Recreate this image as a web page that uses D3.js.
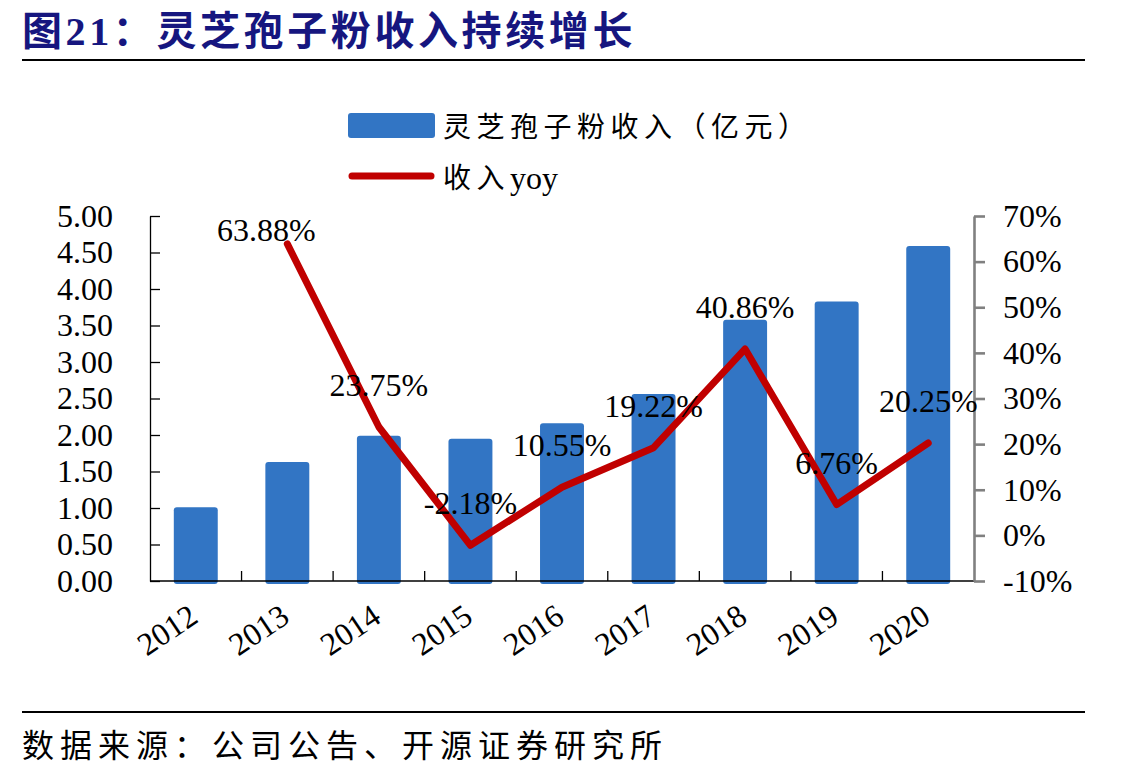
<!DOCTYPE html>
<html>
<head>
<meta charset="utf-8">
<script src="https://cdn.jsdelivr.net/npm/d3@7"></script>
<style>
  body { margin: 0; background: #fff; }
  text { font-family: "Liberation Serif", "Noto Sans CJK SC", serif; }
</style>
</head>
<body>
<div id="chart"></div>
<script>
// Data
const years = ["2012", "2013", "2014", "2015", "2016", "2017", "2018", "2019", "2020"];
const revenue = [1.01, 1.63, 1.99, 1.95, 2.16, 2.56, 3.58, 3.83, 4.59];
const yoy = [null, 63.88, 23.75, -2.18, 10.55, 19.22, 40.86, 6.76, 20.25];
const leftTicks = [0, 0.5, 1, 1.5, 2, 2.5, 3, 3.5, 4, 4.5, 5];
const rightTicks = [-10, 0, 10, 20, 30, 40, 50, 60, 70];
const seriesNames = ["灵芝孢子粉收入（亿元）", "收入"];
const titleText = "图21：灵芝孢子粉收入持续增长";
const sourceText = "数据来源：公司公告、开源证券研究所";

const width = 1137, height = 779;
const plot = { left: 150, right: 974, top: 216, bottom: 581 };
const barColor = "#3275C4";
const lineColor = "#C00000";
const numFont = 32;

const svg = d3.select("#chart").append("svg")
  .attr("width", width)
  .attr("height", height);

// Title + rules
svg.append("text")
  .attr("x", 22).attr("y", 45)
  .attr("fill", "#16167f")
  .attr("font-size", 40)
  .attr("font-weight", "bold")
  .attr("letter-spacing", 3.6)
  .text(titleText);

svg.append("line").attr("x1", 22).attr("x2", 1085).attr("y1", 60).attr("y2", 60)
  .attr("stroke", "#000").attr("stroke-width", 2);
svg.append("line").attr("x1", 22).attr("x2", 1085).attr("y1", 712).attr("y2", 712)
  .attr("stroke", "#000").attr("stroke-width", 2);

svg.append("text")
  .attr("x", 22).attr("y", 757)
  .attr("font-size", 32)
  .attr("letter-spacing", 6)
  .text(sourceText);

// Scales
const x = d3.scaleBand()
  .domain(years)
  .range([plot.left, plot.right])
  .paddingInner(0.52)
  .paddingOuter(0.26);

const yL = d3.scaleLinear().domain([0, 5]).range([plot.bottom, plot.top]);
const yR = d3.scaleLinear().domain([-10, 70]).range([plot.bottom, plot.top]);

// Bars
svg.selectAll("rect.bar")
  .data(revenue)
  .enter()
  .append("rect")
  .attr("class", "bar")
  .attr("x", (d, i) => x(years[i]))
  .attr("y", d => yL(d))
  .attr("width", x.bandwidth())
  .attr("height", d => yL(0) - yL(d) + 3)
  .attr("rx", 3)
  .attr("fill", barColor);

// Left axis
const gL = svg.append("g")
  .attr("transform", `translate(${plot.left},0)`)
  .call(d3.axisLeft(yL).tickValues(leftTicks).tickFormat(d3.format(".2f"))
    .tickSizeInner(-10).tickSizeOuter(0).tickPadding(37));
gL.selectAll("path, line").attr("stroke", "#000").attr("stroke-width", 1.3);
gL.selectAll("text").attr("font-size", numFont).attr("fill", "#000")
  .style("font-family", "Liberation Serif");

// Bottom axis
const step = x.step();
svg.append("line")
  .attr("x1", plot.left).attr("x2", plot.right)
  .attr("y1", plot.bottom).attr("y2", plot.bottom)
  .attr("stroke", "#000").attr("stroke-width", 1.5);
svg.selectAll("line.xtick")
  .data(years.slice(1))
  .enter()
  .append("line")
  .attr("class", "xtick")
  .attr("x1", d => x(d) - step * 0.26)
  .attr("x2", d => x(d) - step * 0.26)
  .attr("y1", plot.bottom).attr("y2", plot.bottom - 10)
  .attr("stroke", "#000").attr("stroke-width", 1.3);

const gX = svg.append("g")
  .attr("transform", `translate(0,${plot.bottom})`)
  .call(d3.axisBottom(x).tickSize(0));
gX.select(".domain").remove();
gX.selectAll("text")
  .attr("x", 0).attr("y", 0).attr("dy", 0)
  .attr("text-anchor", "end")
  .attr("transform", "translate(4,40) rotate(-34)")
  .attr("font-size", numFont).attr("fill", "#000")
  .style("font-family", "Liberation Serif");

// Right axis
const gR = svg.append("g")
  .attr("transform", `translate(${plot.right},0)`)
  .call(d3.axisRight(yR).tickValues(rightTicks).tickFormat(d => d + "%")
    .tickSizeInner(11).tickSizeOuter(0).tickPadding(18));
gR.selectAll("path, line").attr("stroke", "#808080").attr("stroke-width", 2.6);
gR.selectAll("text").attr("font-size", numFont).attr("fill", "#000")
  .style("font-family", "Liberation Serif");

// Line
const cx = i => x(years[i]) + x.bandwidth() / 2;
const line = d3.line()
  .defined(d => d != null)
  .x((d, i) => cx(i))
  .y(d => yR(d));

svg.append("path")
  .datum(yoy)
  .attr("d", line)
  .attr("fill", "none")
  .attr("stroke", lineColor)
  .attr("stroke-width", 7)
  .attr("stroke-linecap", "round")
  .attr("stroke-linejoin", "round");

// Data labels
svg.selectAll("text.lbl")
  .data(yoy.map((v, i) => ({ v, i })).filter(d => d.v != null))
  .enter()
  .append("text")
  .attr("class", "lbl")
  .attr("x", d => cx(d.i) + (d.i === 1 ? -21 : 0))
  .attr("y", d => yR(d.v) - 31 + (d.i === 1 ? 28 : 0))
  .attr("text-anchor", "middle")
  .attr("font-size", numFont)
  .style("font-family", "Liberation Serif")
  .text(d => d.v.toFixed(2) + "%");

// Legend
svg.append("rect")
  .attr("x", 348).attr("y", 113).attr("width", 87).attr("height", 25).attr("rx", 3)
  .attr("fill", barColor);
svg.append("text")
  .attr("x", 443).attr("y", 127).attr("dominant-baseline", "central")
  .attr("font-size", 28).attr("letter-spacing", 5.5)
  .text(seriesNames[0]);
svg.append("line")
  .attr("x1", 352).attr("x2", 431).attr("y1", 176).attr("y2", 176)
  .attr("stroke", lineColor).attr("stroke-width", 7).attr("stroke-linecap", "round");
const lg2 = svg.append("text")
  .attr("x", 443).attr("y", 178).attr("dominant-baseline", "central")
  .attr("font-size", 28);
lg2.append("tspan").attr("letter-spacing", 5.5).text(seriesNames[1]);
lg2.append("tspan").attr("font-size", numFont).text("yoy");
</script>
</body>
</html>
